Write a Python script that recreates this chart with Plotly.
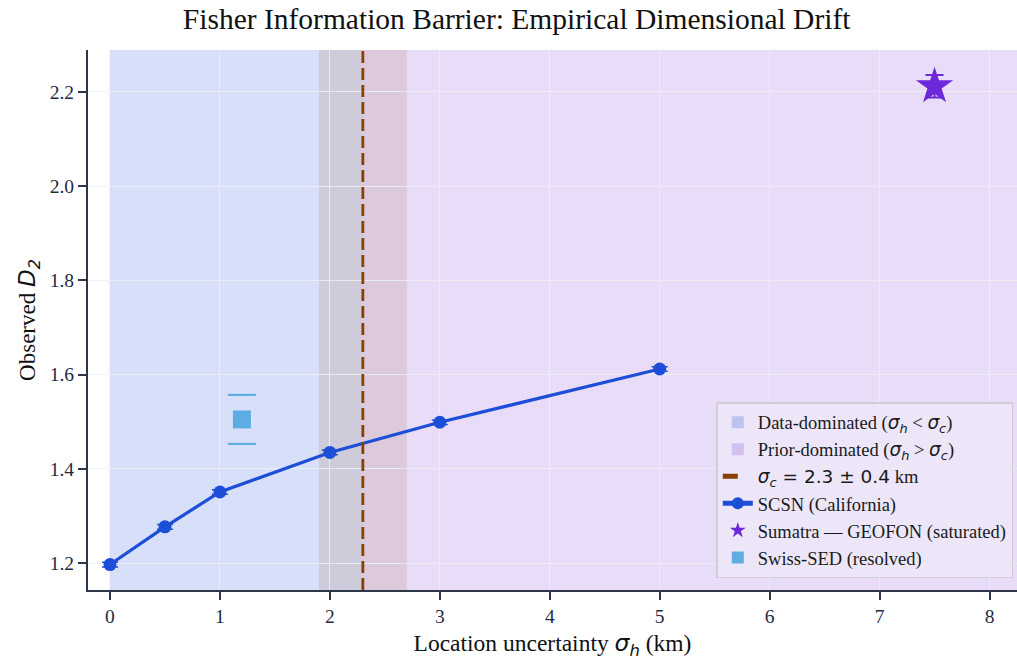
import plotly.graph_objects as go

# SCSN (California) drift curve
scsn_sigma = [0, 0.5, 1, 2, 3, 5]
scsn_d2 = [1.197, 1.277, 1.351, 1.435, 1.499, 1.612]
scsn_err = [0.005, 0.005, 0.005, 0.005, 0.005, 0.005]

# Sumatra — GEOFON (saturated)
sumatra_sigma = [7.5]
sumatra_d2 = [2.212]
sumatra_err = [0.024]

# Swiss-SED (resolved)
swiss_sigma = [1.2]
swiss_d2 = [1.505]
swiss_err = [0.052]

# critical uncertainty and its spread
sigma_c = 2.3
sigma_c_err = 0.4

x_range = [-0.2, 8.25]
y_range = [1.143, 2.289]

SERIF = "Liberation Serif, Times New Roman, serif"
INK = "#1f2a44"
BLUE = "#1d4ed8"
VIOLET = "#6d28d9"
SKY = "#5dade2"
BROWN = "#8b4000"
DASH = "12px,5px"


def msub(base, sub):
    """Math-style italic symbol with subscript, in a sans face."""
    return f'<span style="font-family:DejaVu Sans"><i>{base}<sub>{sub}</sub></i></span>'


fig = go.Figure()

# regime shading
fig.add_shape(type="rect", xref="x", yref="paper", x0=0, x1=sigma_c, y0=0, y1=1,
              fillcolor="rgba(90,120,225,0.24)", line_width=0, layer="below")
fig.add_shape(type="rect", xref="x", yref="paper", x0=sigma_c, x1=x_range[1] + 1, y0=0, y1=1,
              fillcolor="rgba(160,110,225,0.24)", line_width=0, layer="below")
fig.add_shape(type="rect", xref="x", yref="paper", x0=sigma_c - sigma_c_err, x1=sigma_c + sigma_c_err,
              y0=0, y1=1, fillcolor="rgba(139,69,19,0.12)", line_width=0, layer="below")
fig.add_shape(type="line", xref="x", yref="paper", x0=sigma_c, x1=sigma_c, y0=0, y1=1,
              line=dict(color=BROWN, width=2.8, dash=DASH), layer="above")

# legend entries for the shaded regions and the threshold line
fig.add_trace(go.Scatter(x=[None], y=[None], mode="markers",
                         marker=dict(symbol="square", size=20, color="rgba(90,120,225,0.32)"),
                         name=f"Data-dominated ({msub('σ','h')} &lt; {msub('σ','c')})"))
fig.add_trace(go.Scatter(x=[None], y=[None], mode="markers",
                         marker=dict(symbol="square", size=20, color="rgba(160,110,225,0.32)"),
                         name=f"Prior-dominated ({msub('σ','h')} &gt; {msub('σ','c')})"))
fig.add_trace(go.Scatter(x=[None], y=[None], mode="lines",
                         line=dict(color=BROWN, width=2.8, dash="dash"),
                         name=f'{msub("σ","c")}<span style="font-family:DejaVu Sans"> = 2.3 ± 0.4</span> km'))

# SCSN curve
fig.add_trace(go.Scatter(
    x=scsn_sigma, y=scsn_d2, mode="lines+markers", name="SCSN (California)",
    line=dict(color=BLUE, width=3.2),
    marker=dict(size=13, color=BLUE),
    error_y=dict(type="data", array=scsn_err, color=BLUE, thickness=1.5, width=8),
))

# Sumatra star
fig.add_trace(go.Scatter(
    x=sumatra_sigma, y=sumatra_d2, mode="markers", name="Sumatra — GEOFON (saturated)",
    marker=dict(symbol="star", size=28, color=VIOLET),
    error_y=dict(type="data", array=sumatra_err, color=VIOLET, thickness=2, width=9),
))

# Swiss-SED square with cap marks
fig.add_trace(go.Scatter(
    x=swiss_sigma, y=swiss_d2, mode="markers", name="Swiss-SED (resolved)",
    marker=dict(symbol="square", size=18, color=SKY),
))
fig.add_trace(go.Scatter(
    x=swiss_sigma * 2,
    y=[swiss_d2[0] - swiss_err[0], swiss_d2[0] + swiss_err[0]],
    mode="markers", showlegend=False, hoverinfo="skip",
    marker=dict(symbol="line-ew", size=20, color=SKY, line=dict(color=SKY, width=2.2)),
))

axis_common = dict(
    showline=True, linecolor="#2d3748", linewidth=2,
    ticks="outside", ticklen=8, tickwidth=1.8, tickcolor="#2d3748",
    tickfont=dict(family=SERIF, size=19.5, color=INK),
    showgrid=True, gridcolor="rgba(238,240,246,0.85)", gridwidth=1.2,
    zeroline=False, mirror=False,
)

fig.update_layout(
    width=1017, height=664,
    margin=dict(l=88, r=0, t=50, b=74),
    paper_bgcolor="white", plot_bgcolor="white",
    title=dict(text="Fisher Information Barrier: Empirical Dimensional Drift",
               x=0.508, xanchor="center", y=0.972, yanchor="middle",
               font=dict(family=SERIF, size=29.5, color="#111111")),
    xaxis=dict(range=x_range, tickvals=[0, 1, 2, 3, 4, 5, 6, 7, 8],
               title=dict(text=f"Location uncertainty {msub('σ','h')} (km)",
                          font=dict(family=SERIF, size=23.5, color="#111111"), standoff=8),
               **axis_common),
    yaxis=dict(range=y_range, tickvals=[1.2, 1.4, 1.6, 1.8, 2.0, 2.2], tickformat=".1f",
               title=dict(text=f"Observed {msub('D','2')}",
                          font=dict(family=SERIF, size=23, color="#111111"), standoff=8),
               **axis_common),
    legend=dict(
        x=0.996, xanchor="right", y=0.022, yanchor="bottom",
        bgcolor="rgba(236,232,248,0.85)", bordercolor="#cfcfd8", borderwidth=1.5,
        font=dict(family=SERIF, size=18.5, color="#1a1a1a"),
        tracegroupgap=0, itemsizing="constant",
    ),
    showlegend=True,
)

fig.write_html("out.html")
